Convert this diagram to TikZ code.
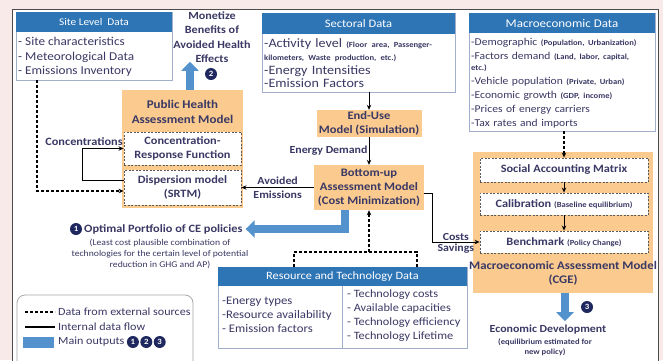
\documentclass[tikz,border=0pt]{standalone}
\usepackage{fontspec}
\setmainfont{Carlito}[FakeStretch=1.1]
\usetikzlibrary{positioning,arrows.meta}

\definecolor{hdrblue}{RGB}{46,117,182}
\definecolor{outblue}{RGB}{84,146,206}
\definecolor{modorange}{RGB}{250,202,142}
\definecolor{navy}{RGB}{31,40,94}
\definecolor{txtcol}{RGB}{58,56,100}
\definecolor{boxline}{RGB}{160,176,204}
\definecolor{pinkbg}{RGB}{247,234,233}
\newcommand{\smallp}[1]{{\fontsize{7.8}{8}\selectfont\bfseries #1}}

\begin{document}
\begin{tikzpicture}[x=1pt,y=-1pt,
  >={Stealth[length=5pt,width=4.5pt]},
  every node/.style={text=txtcol},
  databox/.style={draw=boxline, fill=white, line width=0.8pt, inner sep=0pt},
  hdr/.style={fill=hdrblue, text=white, inner sep=0pt, font=\fontsize{11.4}{12}\selectfont},
  bodytxt/.style={anchor=north west, inner sep=0pt, align=left, font=\fontsize{12}{14.5}\selectfont},
  model/.style={fill=modorange, inner sep=0pt, align=center, font=\fontsize{11.4}{14}\selectfont\bfseries},
  subbox/.style={draw=black!65, dash pattern=on 2pt off 1.5pt, fill=white, line width=0.9pt, inner sep=0pt, align=center, font=\fontsize{11.2}{14}\selectfont\bfseries},
  numc/.style={circle, fill=navy, text=white, inner sep=0pt, minimum size=12pt, font=\fontsize{8}{8}\selectfont\bfseries},
  bigout/.style={draw=outblue, line width=8pt, line join=miter, -{Triangle[width=17pt,length=9pt]}},
  ext/.style={dash pattern=on 3pt off 2pt, line width=1.1pt},
  flow/.style={line width=1pt},
  lbl/.style={font=\fontsize{10.8}{14}\selectfont\bfseries, align=center, inner sep=1pt}
]
\useasboundingbox (0,0) rectangle (663,360);
\fill[pinkbg] (0,0) rectangle (663,360);
\draw[fill=white, draw=black!70, line width=1pt] (12,9) rectangle (658,375);

% site level data
\node[databox, minimum width=156pt, minimum height=68pt] (site) at (94,46) {};
\node[hdr, minimum width=156pt, minimum height=20pt, font=\fontsize{10.3}{12}\selectfont] (sitehd) at (94,22) {Site Level\ \ Data};
\node[bodytxt] (sitetx) at (18,37) {- Site characteristics\\- Meteorological Data\\- Emissions Inventory};

\node[lbl, font=\fontsize{11}{14.5}\selectfont\bfseries] (monet) at (212,37) {Monetize\\Benefits of\\Avoided Health\\Effects};
\node[numc] (n2) at (211,74) {2};

% public health model
\node[model, minimum width=121pt, minimum height=118pt] (pha) at (182.5,149) {};
\node[lbl, font=\fontsize{11.8}{14.5}\selectfont\bfseries] (phatx) at (182.5,112) {Public Health\\Assessment Model};
\node[subbox, minimum width=117pt, minimum height=33pt] (crf) at (182.5,148.5) {Concentration-\\Response Function};
\node[subbox, minimum width=117pt, minimum height=35pt] (disp) at (182.5,187.5) {Dispersion model\\(SRTM)};
\draw[bigout] ([xshift=7.5pt]pha.north) -- ++(0,-28);

\node[lbl, font=\fontsize{11.2}{14}\selectfont\bfseries] (conc) at (84,142) {Concentrations};
\draw[flow,->] ([yshift=7.5pt]disp.west) -- ++(-41,0) |- (crf.west);
\draw[ext,->] ([xshift=-57pt]site.south) |- ([yshift=-3.5pt]disp.west);

% sectoral data
\node[databox, minimum width=193pt, minimum height=79pt] (sect) at (358.5,52.5) {};
\node[hdr, minimum width=193pt, minimum height=21pt] (secthd) at (358.5,23.5) {Sectoral Data};
\node[bodytxt, text width=188pt, font=\fontsize{12.8}{13.5}\selectfont] (secttx) at (264,38) {\makebox[188pt][s]{-Activity level \smallp{(Floor area, Passenger-}}\\\smallp{kilometers, Waste production, etc.)}\\-Energy Intensities\\-Emission Factors};

% macroeconomic data
\node[databox, minimum width=186pt, minimum height=118pt] (macro) at (562,72) {};
\node[hdr, minimum width=186pt, minimum height=20pt, font=\fontsize{11.8}{12}\selectfont] (macrohd) at (562,23) {Macroeconomic Data};
\node[bodytxt, text width=182pt, font=\fontsize{10.5}{14}\selectfont] (macrotx) at (471,38) {-Demographic \smallp{(Population, Urbanization)}\\\makebox[182pt][s]{-Factors demand \smallp{(Land, labor, capital,}}\\[-3pt]\smallp{etc.)}\\-Vehicle population \smallp{(Private, Urban)}\\-Economic growth \smallp{(GDP, income)}\\-Prices of energy carriers\\-Tax rates and imports};

% bottom-up models
\node[model, minimum width=105pt, minimum height=27pt] (eu) at (369,123.5) {End-Use\\Model (Simulation)};
\node[model, minimum width=110pt, minimum height=45pt] (bu) at (369,187.5) {Bottom-up\\Assessment Model\\(Cost Minimization)};
\draw[flow,->] (eu.north |- sect.south) -- (eu.north);
\draw[flow,->] (eu) -- node[lbl, left] (edlbl) {Energy Demand} (bu);
\draw[flow,->] (bu.west) -- node[lbl] (aelbl) {Avoided\\Emissions} (disp.east);

% optimal portfolio
\node[numc] (n1) at (76,229) {1};
\node[lbl, anchor=west, inner sep=0pt, font=\fontsize{11.2}{14}\selectfont\bfseries] (opt) at (84,229) {Optimal Portfolio of CE policies};
\node[align=center, font=\fontsize{8.8}{11}\selectfont] (opttx) at (160,254) {(Least cost plausible combination of\\technologies for the certain level of potential\\reduction in GHG and AP)};
\draw[bigout] ([xshift=-24pt]bu.south) |- ([xshift=3pt]opt.east);

% resource and technology data
\node[databox, minimum width=249pt, minimum height=81pt] (res) at (342.5,307.5) {};
\node[hdr, minimum width=249pt, minimum height=19pt, font=\fontsize{11.2}{12}\selectfont] (reshd) at (342.5,276.5) {Resource and Technology Data};
\draw[draw=boxline, line width=0.8pt] (reshd.south) -- (res.south);
\node[bodytxt, font=\fontsize{11.6}{14}\selectfont] (reslt) at (222,297) {-Energy types\\-Resource availability\\- Emission factors};
\node[bodytxt, font=\fontsize{11.2}{13.7}\selectfont] (resrt) at (347,290) {- Technology costs\\- Available capacities\\- Technology efficiency\\- Technology Lifetime};
\coordinate (rtjoin) at (369,252);
\draw[ext] ([xshift=-48.5pt]res.north) |- (rtjoin) -| ([xshift=74.5pt]res.north);
\draw[ext,->] (rtjoin) -- (bu.south);

% macroeconomic model
\node[model, minimum width=180pt, minimum height=141pt] (mam) at (563,222.5) {};
\node[subbox, minimum width=168pt, minimum height=24pt] (sam) at (564,170) {Social Accounting Matrix};
\node[subbox, minimum width=168pt, minimum height=22pt] (calib) at (564,204) {Calibration \smallp{(Baseline equilibrium)}};
\node[subbox, minimum width=168pt, minimum height=22pt] (bench) at (564,242) {Benchmark \smallp{(Policy Change)}};
\node[lbl, font=\fontsize{11.6}{14}\selectfont\bfseries] (mamtx) at (563,273) {Macroeconomic Assessment Model\\(CGE)};
\draw[ext,->] (sam.north |- macro.south) -- (sam.north);
\draw[flow,->] (sam) -- (calib);
\draw[flow,->] (calib) -- (bench);
\draw[flow,->] ([yshift=-5.5pt]bu.east) -- ++(8,0) |- node[lbl, pos=0.75, above] (costs) {Costs} node[lbl, pos=0.75, below] (savings) {Savings} (bench.west);

\draw[bigout] ([xshift=2pt]mam.south) -- ++(0,28);
\node[numc] (n3) at (587,307) {3};
\node[lbl, font=\fontsize{10.8}{14}\selectfont\bfseries] (econ) at (548,330) {Economic Development};
\node[align=center, font=\fontsize{7.8}{10}\selectfont\bfseries] (econtx) at (545,347) {(equilibrium estimated for\\new policy)};

% legend
\node[draw=black!35, line width=0.8pt, rounded corners=8pt, minimum width=176pt, minimum height=80pt] (legend) at (105,335) {};
\coordinate (lgd1) at (25,312);
\coordinate (lgd1e) at (55,312);
\coordinate (lgd2) at (25,327);
\coordinate (lgd2e) at (55,327);
\draw[ext, line width=1.5pt] (lgd1) -- (lgd1e);
\draw[flow, line width=1.5pt] (lgd2) -- (lgd2e);
\node[fill=outblue, minimum width=31pt, minimum height=11pt, inner sep=0pt] (lgbox) at (38,342) {};
\node[anchor=west, inner sep=0pt, font=\fontsize{11}{12}\selectfont] (lgt1) at (58,312) {Data from external sources};
\node[anchor=west, inner sep=0pt, font=\fontsize{11}{12}\selectfont] (lgt2) at (58,327) {Internal data flow};
\node[anchor=west, inner sep=0pt, font=\fontsize{11}{12}\selectfont] (lgt3) at (58,342) {Main outputs};
\node[numc, right=2pt of lgt3] (lg1) {1};
\node[numc, right=1pt of lg1] (lg2) {2};
\node[numc, right=1pt of lg2] (lg3) {3};
\end{tikzpicture}
\end{document}
